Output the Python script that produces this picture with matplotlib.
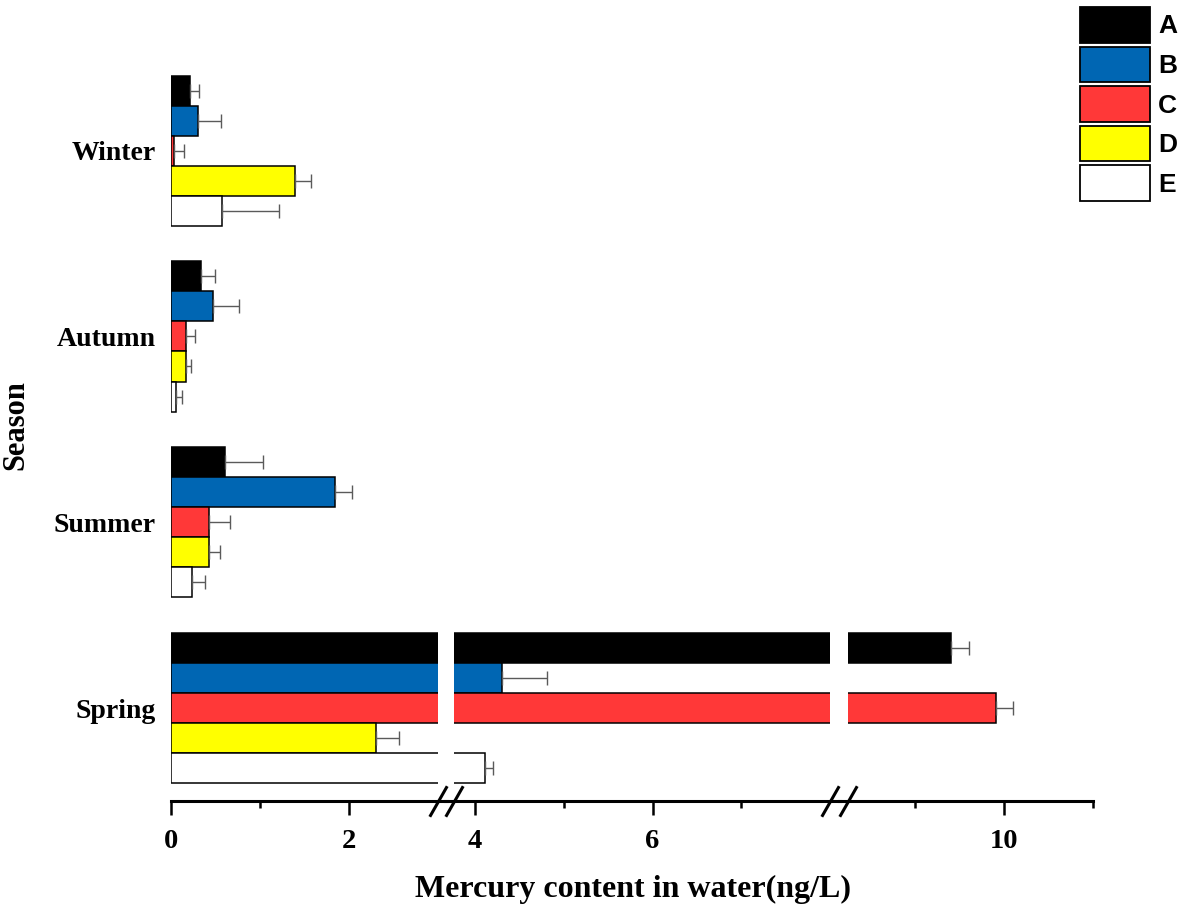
import numpy as np
import matplotlib.pyplot as plt

# data (ng/L)
seasons = ['Spring', 'Summer', 'Autumn', 'Winter']
sites = ['A', 'B', 'C', 'D', 'E']
colors = ['#000000', '#0066b3', '#ff3838', '#ffff00', '#ffffff']

# one list per site, in season order (Spring, Summer, Autumn, Winter)
site_a = [9.41, 0.61, 0.34, 0.21]
site_b = [4.31, 1.84, 0.47, 0.30]
site_c = [9.91, 0.43, 0.17, 0.03]
site_d = [2.31, 0.43, 0.17, 1.40]
site_e = [4.11, 0.24, 0.06, 0.57]

err_a = [0.20, 0.43, 0.15, 0.10]
err_b = [0.50, 0.20, 0.29, 0.26]
err_c = [0.20, 0.23, 0.10, 0.12]
err_d = [0.26, 0.12, 0.06, 0.18]
err_e = [0.10, 0.14, 0.06, 0.64]

values = [site_a, site_b, site_c, site_d, site_e]
errors = [err_a, err_b, err_c, err_d, err_e]

# three pieces of the broken x axis
segments = [(0, 3.0), (3.77, 8.0), (8.25, 11.0)]
major = [[0, 2], [4, 6], [10]]
minor = [[1], [5, 7], [9, 11]]

serif = 'Liberation Serif'
sans = 'Liberation Sans'

W, H = 1181, 915
fig = plt.figure(figsize=(W / 100, H / 100), dpi=100)

k = 88.9          # pixels per unit on x
x0 = 171          # pixel of x=0
gaps = [16.6, 17.7]
top_px, bot_px = 67, 801

axes = []
left = x0
for i, (lo, hi) in enumerate(segments):
    w = (hi - lo) * k
    ax = fig.add_axes([left / W, 1 - bot_px / H, w / W, (bot_px - top_px) / H])
    axes.append(ax)
    left += w
    if i < len(gaps):
        left += gaps[i]

bar_h = 0.1617
y = np.arange(len(seasons))
offsets = [2 * bar_h, bar_h, 0, -bar_h, -2 * bar_h]

for i, ax in enumerate(axes):
    lo, hi = segments[i]
    for j in range(len(sites)):
        ax.barh(y + offsets[j], values[j], height=bar_h, color=colors[j],
                edgecolor='black', linewidth=1.1, label=sites[j],
                xerr=[np.zeros(len(seasons)), errors[j]],
                error_kw=dict(ecolor='#5a5a5a', elinewidth=1.0,
                              capsize=5, capthick=1.0))
    ax.set_xlim(lo, hi)
    ax.set_ylim(-0.5, 3.45)
    for s in ['top', 'right', 'left']:
        ax.spines[s].set_visible(False)
    ax.spines['bottom'].set_linewidth(2.2)
    # stretch the bottom line across the gaps
    pad = 9.5 / k
    ax.spines['bottom'].set_bounds(lo - (pad if i > 0 else 0),
                                   hi + (pad if i < 2 else 0))
    ax.set_xticks(major[i])
    ax.set_xticks(minor[i], minor=True)
    ax.tick_params(axis='x', which='major', length=10, width=1.8,
                   direction='out', pad=10)
    ax.tick_params(axis='x', which='minor', length=5, width=1.8,
                   direction='out')
    for lab in ax.get_xticklabels():
        lab.set_fontfamily(serif)
        lab.set_fontweight('bold')
        lab.set_fontsize(20.5)
    if i == 0:
        ax.set_yticks(y)
        ax.set_yticklabels(seasons, fontfamily=serif, fontweight='bold',
                           fontsize=20)
        ax.tick_params(axis='y', length=0, pad=11)
    else:
        ax.set_yticks([])

# break marks
slash = [(-0.57, -1), (0.57, 1)]
mk = dict(marker=slash, markersize=22, color='black', mew=2.2,
          linestyle='none', clip_on=False)
for i in range(2):
    axes[i].plot([1], [0], transform=axes[i].transAxes, **mk)
    axes[i + 1].plot([0], [0], transform=axes[i + 1].transAxes, **mk)

fig.text(633 / W, 1 - 889 / H, 'Mercury content in water(ng/L)',
         ha='center', va='center', fontfamily=serif, fontweight='bold',
         fontsize=23)
fig.text(16 / W, 1 - 425 / H, 'Season', rotation=90, ha='center',
         va='center', fontfamily=serif, fontweight='bold', fontsize=22)

handles, labels = axes[0].get_legend_handles_labels()
leg = fig.legend(handles, labels, loc='upper left',
                 bbox_to_anchor=(1080 / W, 1 - 7 / H), frameon=False,
                 prop=dict(family=sans, weight='bold', size=19),
                 handlelength=2.65, handleheight=1.7, labelspacing=0.15,
                 handletextpad=0.3, borderpad=0, borderaxespad=0)
for p in leg.get_patches():
    p.set_linewidth(1.3)

fig.savefig('out.png', dpi=100)
